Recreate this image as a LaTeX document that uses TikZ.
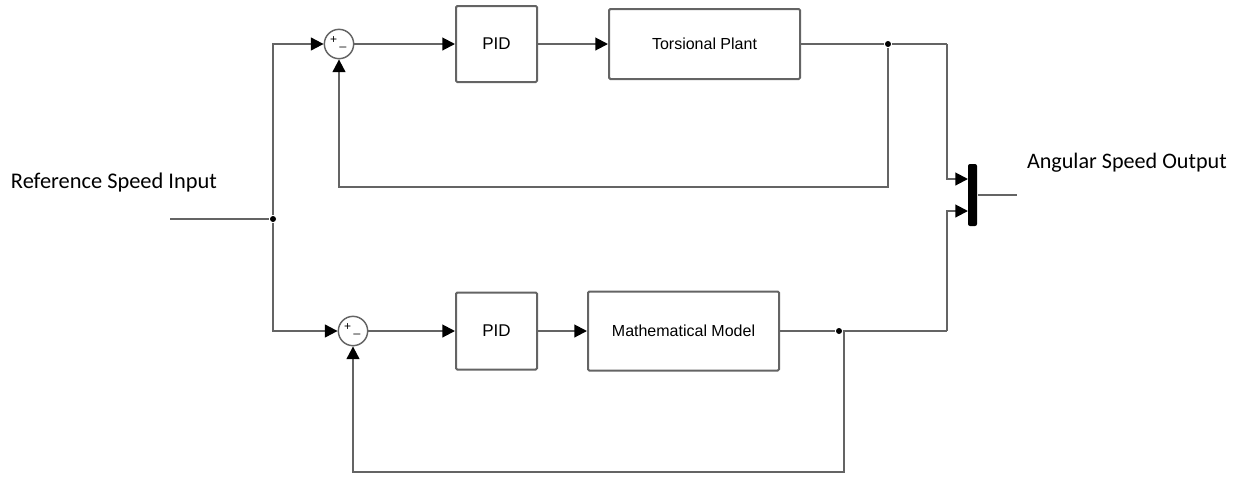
\documentclass[tikz,border=0pt]{standalone}
\usepackage{fontspec}
\newfontfamily\calfont{Carlito}
\newfontfamily\arialfont{Liberation Sans}
\usetikzlibrary{arrows.meta}

\definecolor{wire}{RGB}{100,100,100}
\tikzset{every picture/.style={line width=1.5pt}}
\tikzset{
  blockbox/.style={draw=wire, rounded corners=1pt, inner sep=0pt, font=\arialfont\fontsize{12}{14}\selectfont},
  sumnode/.style={draw=wire, circle, minimum size=22pt, inner sep=0pt, line width=1.1pt},
  signlabel/.style={font=\arialfont\fontsize{9}{10}\selectfont, inner sep=0pt},
  junction/.style={circle, fill=black, inner sep=0pt, minimum size=4.5pt},
  sig/.style={draw=wire, -{Triangle[length=9.5pt,width=9.5pt,color=black]}},
  wireline/.style={draw=wire}
}

\begin{document}
\begin{tikzpicture}[x=0.75pt,y=0.75pt,yscale=-1,xscale=1]
\useasboundingbox (0,0) rectangle (1244,476);

%Shape: Sum circles
\node [sumnode] (sumA) at (339,44) {};
\node [sumnode] (sumB) at (353,331) {};
\node [signlabel] at (333.5,40.5) {+};
\node [signlabel] at (343,47) {\_};
\node [signlabel] at (347.5,327.5) {+};
\node [signlabel] at (357,334) {\_};

%Shape: Blocks
\node [blockbox, minimum width=60.75pt, minimum height=57pt, font=\arialfont\fontsize{12.75}{14}\selectfont] (pidA) at (496.5,44) {PID};
\node [blockbox, minimum width=143.25pt, minimum height=52.5pt] (plant) at (704.5,44) {Torsional Plant};
\node [blockbox, minimum width=60.75pt, minimum height=57.75pt, font=\arialfont\fontsize{12.75}{14}\selectfont] (pidB) at (496.5,331) {PID};
\node [blockbox, minimum width=143.25pt, minimum height=59.25pt] (model) at (683.5,331) {Mathematical Model};

%Shape: Mux bar
\node [fill=black, rounded corners=1.5pt, minimum width=6.75pt, minimum height=46.5pt, inner sep=0pt] (mux) at (972.5,195) {};

%Coordinates
\coordinate (inp) at (170,219);
\node [junction] (split) at (273,219) {};
\node [junction] (tapA) at (888,44) {};
\node [junction] (tapB) at (839,331) {};
\coordinate (fbA) at (888,187);
\coordinate (fbB) at (844,472);
\coordinate (cornA) at (947,44);
\coordinate (cornB) at (947,331);
\coordinate (muxA) at (968,179);
\coordinate (muxB) at (968,211);
\coordinate (outp) at (1017,195);

%Straight Lines
\draw [wireline] (inp) -- (split);
\draw [sig] (split) |- (sumA.west);
\draw [sig] (split) |- (sumB.west);
\draw [sig] (sumA) -- (pidA);
\draw [sig] (pidA) -- (plant);
\draw [sig] (sumB) -- (pidB);
\draw [sig] (pidB) -- (model);
\draw [wireline] (plant) -- (tapA) -- (cornA);
\draw [wireline] (model) -- (tapB) -- (cornB);
\draw [sig] (cornA) |- (muxA);
\draw [sig] (cornB) |- (muxB);
\draw [sig] (tapA) -- (fbA) -| (sumA.south);
\draw [sig] (tapB -| fbB) -- (fbB) -| (sumB.south);
\draw [wireline] (mux) -- (outp);

% Text Node
\node [anchor=west, inner sep=0pt, font=\calfont\fontsize{16.8}{20}\selectfont] (refin) at (10,183) {Reference Speed Input};
% Text Node
\node [anchor=west, inner sep=0pt, font=\calfont\fontsize{16.6}{20}\selectfont] (angout) at (1026,163) {Angular Speed Output};
\end{tikzpicture}
\end{document}
